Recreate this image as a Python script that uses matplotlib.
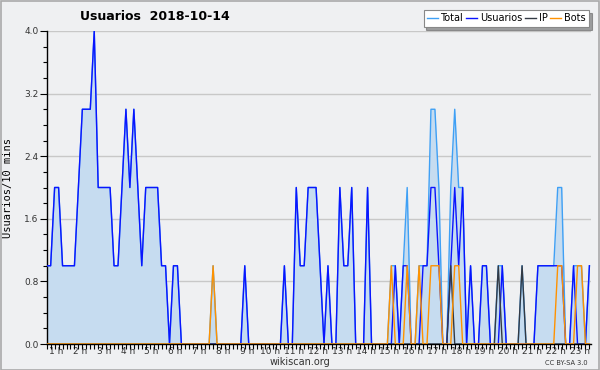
import matplotlib
matplotlib.use("Agg")
import matplotlib.pyplot as plt
from matplotlib.patches import Rectangle
import numpy as np

title = "Usuarios  2018-10-14"
hour_labels = [f"{h} h" for h in range(1, 24)]
series_names = ["Total", "Usuarios", "IP", "Bots"]

usuarios = [1, 1, 2, 2, 1, 1, 1, 1, 2, 3, 3, 3, 4, 2, 2, 2, 2, 1, 1, 2,
            3, 2, 3, 2, 1, 2, 2, 2, 2, 1, 1, 0, 1, 1, 0, 0, 0, 0, 0, 0,
            0, 0, 0, 0, 0, 0, 0, 0, 0, 0, 1, 0, 0, 0, 0, 0, 0, 0, 0, 0,
            1, 0, 0, 2, 1, 1, 2, 2, 2, 1, 0, 1, 0, 0, 2, 1, 1, 2, 0, 0,
            0, 2, 0, 0, 0, 0, 0, 0, 1, 0, 1, 1, 0, 0, 0, 1, 1, 2, 2, 1,
            0, 0, 1, 2, 1, 2, 0, 1, 0, 0, 1, 1, 0, 0, 0, 1, 0, 0, 0, 0,
            0, 0, 0, 0, 1, 1, 1, 1, 1, 1, 1, 0, 0, 1, 0, 0, 0, 1]
ip = [0] * 138
for i in (102, 114, 120):
    ip[i] = 1
bots = [0] * 138
for i in (42, 87, 91, 94, 97, 98, 99, 103, 104, 129, 130, 134, 135):
    bots[i] = 1
total = [1, 1, 2, 2, 1, 1, 1, 1, 2, 3, 3, 3, 4, 2, 2, 2, 2, 1, 1, 2,
         3, 2, 3, 2, 1, 2, 2, 2, 2, 1, 1, 0, 1, 1, 0, 0, 0, 0, 0, 0,
         0, 0, 1, 0, 0, 0, 0, 0, 0, 0, 1, 0, 0, 0, 0, 0, 0, 0, 0, 0,
         1, 0, 0, 2, 1, 1, 2, 2, 2, 1, 0, 1, 0, 0, 2, 1, 1, 2, 0, 0,
         0, 2, 0, 0, 0, 0, 0, 1, 1, 0, 1, 2, 0, 0, 1, 1, 1, 3, 3, 2,
         0, 0, 2, 3, 2, 2, 0, 1, 0, 0, 1, 1, 0, 0, 1, 1, 0, 0, 0, 0,
         1, 0, 0, 0, 1, 1, 1, 1, 1, 2, 2, 0, 0, 1, 1, 1, 0, 1]

x = np.arange(len(total))

bg = "#eff0f2"
fig = plt.figure(figsize=(6, 3.7), dpi=100, facecolor=bg)
ax = fig.add_axes([46.7 / 600, 1 - 344 / 370, (591 - 46.7) / 600, (344 - 31) / 370])
ax.set_facecolor(bg)

ax.fill_between(x, total, 0, color="#c6dcf0", lw=0, zorder=1)
l1, = ax.plot(x, total, color="#3fa0f5", lw=1.0, zorder=3)
l2, = ax.plot(x, usuarios, color="#0a14ff", lw=1.0, zorder=4)
l3, = ax.plot(x, ip, color="#333a44", lw=1.0, zorder=5)
l4, = ax.plot(x, bots, color="#ff9200", lw=1.0, zorder=6)

ax.set_xlim(0, 137.4)
ax.set_ylim(0, 4.0)
for s in ("top", "right"):
    ax.spines[s].set_visible(False)
for s in ("left", "bottom"):
    ax.spines[s].set_color("black")
    ax.spines[s].set_linewidth(1.0)

yt = [0.0, 0.8, 1.6, 2.4, 3.2, 4.0]
ax.set_yticks(yt)
ax.set_yticklabels([f"{v:.1f}" for v in yt], fontsize=6.5, color="#333")
ax.set_yticks(np.arange(0, 4.01, 0.2), minor=True)
ax.tick_params(axis="y", which="major", length=5, width=0.8, pad=1)
ax.tick_params(axis="y", which="minor", length=3, width=0.8)
for v in yt[1:]:
    ax.axhline(v, color="#c8c8c8", lw=1.0, zorder=0)

ax.set_xticks(np.arange(0, 138, 1), minor=True)
ax.set_xticks([6 * h - 3.5 for h in range(1, 24)])
ax.set_xticklabels(hour_labels, fontsize=6.5, color="#333")
ax.tick_params(axis="x", which="major", length=0, pad=2.5)
ax.tick_params(axis="x", which="minor", length=3.5, width=0.8)

ax.set_ylabel("Usuarios/10 mins", family="DejaVu Sans Mono", fontsize=7.5, labelpad=8)

fig.text(155 / 600, 1 - 16 / 370, title, ha="center", va="center",
         fontsize=9, fontweight="bold")
fig.text(300 / 600, 1 - 362 / 370, "wikiscan.org", ha="center", va="center",
         fontsize=7, color="#333")
fig.text(588 / 600, 1 - 363 / 370, "CC BY-SA 3.0", ha="right", va="center",
         fontsize=4.8, color="#333")

leg = fig.legend(handles=[l1, l2, l3, l4], labels=series_names,
                 loc="upper right",
                 bbox_to_anchor=(589 / 600, 1 - 10 / 370), ncol=4,
                 fontsize=7, frameon=True, fancybox=False, shadow=True,
                 handlelength=1.1, handletextpad=0.3, columnspacing=0.3,
                 borderpad=0.35, borderaxespad=0)
leg.get_frame().set_edgecolor("#888")
leg.get_frame().set_linewidth(0.8)
leg.get_frame().set_facecolor("white")

fig.patches.append(Rectangle((0.001, 0.001), 0.998, 0.997, transform=fig.transFigure,
                             fill=False, edgecolor="#aaaaaa", lw=1.2))

fig.savefig("out.png", dpi=100, facecolor=bg)
